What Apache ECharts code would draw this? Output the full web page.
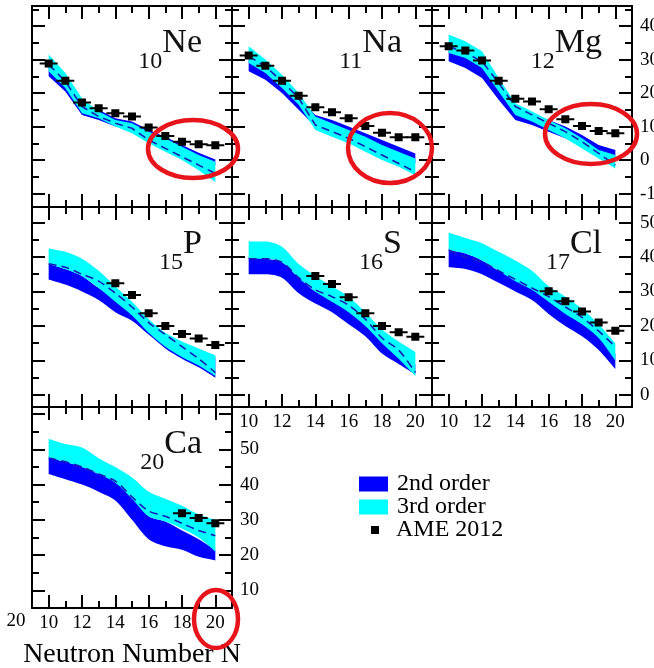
<!DOCTYPE html>
<html>
<head>
<meta charset="utf-8">
<script src="https://cdn.jsdelivr.net/npm/echarts@6/dist/echarts.min.js"></script>
<style>
  html, body { margin: 0; padding: 0; background: #fff; }
  #chart { width: 654px; height: 668px; }
</style>
</head>
<body>
<div id="chart"></div>
<script>
// Neutron numbers shared by every isotope chain
const neutrons = [10, 11, 12, 13, 14, 15, 16, 17, 18, 19, 20];
const xMajorTicks = [10, 12, 14, 16, 18, 20];
const xMinorTicks = [11, 13, 15, 17, 19];
const xTickLabels = [10, 12, 14, 16, 18, 20];

// y ticks for each row of panels
const row1MajorTicks = [-10, 0, 10, 20, 30, 40];
const row1MinorTicks = [-5, 5, 15, 25, 35, 45];
const row1TickLabels = [-10, 0, 10, 20, 30, 40];
const row2MajorTicks = [0, 10, 20, 30, 40, 50];
const row2MinorTicks = [5, 15, 25, 35, 45];
const row2TickLabels = [0, 10, 20, 30, 40, 50];
const row3MajorTicks = [10, 20, 30, 40, 50, 60];
const row3MinorTicks = [15, 25, 35, 45, 55];
const row3TickLabels = [10, 20, 30, 40, 50];

// 10Ne
const neLo2 = [25.0, 20.5, 13.5, 12.0, 10.0, 9.0, 6.5, 4.5, 2.0, 0.0, -1.5];
const neHi2 = [29.5, 24.5, 17.5, 15.0, 12.5, 11.5, 9.0, 7.0, 4.5, 2.2, 0.2];
const neLo3 = [26.5, 21.5, 14.0, 12.5, 10.0, 8.0, 5.0, 2.5, 0.0, -3.0, -6.5];
const neHi3 = [31.5, 26.0, 18.5, 14.5, 12.0, 11.0, 8.5, 6.5, 4.0, 1.5, -0.5];
const neMid = [28.5, 23.5, 16.0, 13.0, 11.0, 9.5, 6.0, 3.5, 1.0, -1.5, -4.0];
const neAmeN = [10, 11, 12, 13, 14, 15, 16, 17, 18, 19, 20];
const neAme = [28.8, 23.7, 17.2, 15.5, 14.0, 13.0, 9.7, 7.2, 5.5, 4.7, 4.4];

// 11Na
const naLo2 = [26.5, 24.0, 20.0, 15.0, 10.0, 8.5, 6.5, 4.5, 2.5, 0.5, -1.0];
const naHi2 = [30.5, 27.5, 23.5, 18.5, 13.5, 12.0, 10.0, 8.0, 6.0, 4.0, 2.0];
const naLo3 = [29.0, 26.0, 21.5, 16.5, 9.0, 7.0, 5.0, 2.5, 0.0, -2.0, -4.5];
const naHi3 = [34.0, 30.0, 25.5, 20.0, 13.0, 11.0, 9.0, 7.0, 4.5, 2.5, 0.5];
const naMid = [31.0, 28.0, 23.5, 18.5, 10.5, 8.5, 6.5, 4.0, 1.5, -1.0, -3.5];
const naAmeN = [10, 11, 12, 13, 14, 15, 16, 17, 18, 19, 20];
const naAme = [31.2, 28.2, 23.7, 19.2, 15.8, 14.3, 12.5, 10.2, 8.2, 6.8, 6.8];

// 12Mg
const mgLo2 = [29.5, 27.5, 24.5, 18.0, 12.0, 10.5, 8.5, 6.5, 4.0, 1.5, 0.0];
const mgHi2 = [33.5, 31.5, 28.5, 22.0, 15.5, 14.0, 12.0, 10.0, 7.5, 4.5, 3.0];
const mgLo3 = [32.0, 30.5, 27.5, 20.5, 13.5, 11.5, 9.0, 6.5, 3.5, 0.5, -2.5];
const mgHi3 = [37.5, 35.5, 32.5, 24.5, 17.0, 14.5, 12.0, 9.5, 6.5, 3.0, 1.5];
const mgMid = [34.0, 32.0, 29.5, 23.0, 16.0, 13.5, 11.0, 8.5, 5.5, 2.0, -1.5];
const mgAmeN = [10, 11, 12, 13, 14, 15, 16, 17, 18, 19, 20];
const mgAme = [34.0, 32.7, 29.7, 23.7, 18.3, 17.5, 15.2, 12.2, 10.2, 8.7, 8.0];

// 15P
const pLo2 = [33.5, 32.0, 30.0, 27.5, 24.0, 21.5, 17.5, 13.5, 10.5, 8.0, 5.0];
const pHi2 = [38.0, 36.5, 34.5, 31.0, 28.0, 25.5, 21.0, 17.0, 14.5, 12.5, 11.0];
const pLo3 = [38.0, 36.5, 34.5, 31.0, 27.0, 23.0, 18.0, 14.0, 11.0, 8.5, 5.5];
const pHi3 = [42.5, 41.5, 39.5, 36.0, 31.5, 27.0, 22.0, 18.0, 15.5, 13.5, 11.5];
const pMid = [38.0, 37.0, 35.0, 33.0, 29.5, 25.5, 21.0, 17.5, 14.0, 10.5, 6.5];
const pAmeN = [14, 15, 16, 17, 18, 19, 20];
const pAme = [32.4, 29.0, 23.7, 20.0, 17.7, 16.4, 14.5];

// 16S
const sLo2 = [35.0, 35.0, 34.0, 29.5, 26.5, 24.0, 20.5, 17.0, 12.0, 9.0, 6.0];
const sHi2 = [40.0, 39.5, 38.5, 34.0, 30.0, 27.5, 25.0, 21.0, 16.0, 12.5, 9.0];
const sLo3 = [39.5, 39.5, 38.5, 34.0, 30.0, 27.0, 24.0, 20.0, 15.0, 10.5, 5.5];
const sHi3 = [44.5, 44.5, 43.0, 38.0, 34.5, 31.5, 28.5, 24.0, 19.0, 15.5, 12.5];
const sMid = [39.5, 39.5, 38.5, 34.0, 30.5, 28.5, 26.0, 22.0, 16.5, 13.0, 6.5];
const sAmeN = [14, 15, 16, 17, 18, 19, 20];
const sAme = [34.5, 32.2, 28.3, 23.7, 20.0, 18.2, 16.9];

// 17Cl
const clLo2 = [37.0, 36.5, 35.0, 32.5, 30.0, 27.5, 23.5, 20.0, 17.0, 13.0, 7.5];
const clHi2 = [42.0, 41.0, 39.0, 36.0, 33.5, 31.0, 27.5, 24.0, 21.0, 17.0, 12.0];
const clLo3 = [42.0, 41.0, 39.0, 36.0, 33.0, 30.5, 27.0, 23.5, 20.5, 16.5, 10.0];
const clHi3 = [47.0, 45.5, 44.0, 41.5, 39.0, 36.0, 31.5, 28.5, 25.0, 20.5, 15.0];
const clMid = [42.0, 40.0, 38.5, 36.0, 33.5, 31.0, 28.5, 25.5, 22.5, 18.5, 14.0];
const clAmeN = [16, 17, 18, 19, 20];
const clAme = [30.1, 27.2, 24.2, 21.0, 18.6];

// 20Ca
const caLo2 = [43.0, 41.5, 40.0, 38.0, 35.5, 30.0, 24.5, 22.5, 21.5, 19.5, 18.5];
const caHi2 = [47.5, 46.5, 45.0, 43.0, 41.0, 36.5, 31.0, 29.5, 27.0, 24.5, 21.5];
const caLo3 = [47.5, 46.5, 45.0, 43.0, 40.5, 36.0, 31.0, 29.5, 27.5, 25.0, 21.0];
const caHi3 = [53.0, 51.5, 50.5, 47.5, 45.0, 42.0, 38.0, 36.0, 34.0, 31.5, 30.0];
const caMid = [47.5, 46.5, 45.0, 43.0, 41.0, 36.5, 32.5, 31.0, 29.0, 27.0, 25.5];
const caAmeN = [18, 19, 20];
const caAme = [31.9, 30.5, 29.0];

// ---- layout ----
const SERIF = '"Liberation Serif", "DejaVu Serif", "Times New Roman", serif';
const colLeft = [32, 232, 432];
const rowTop = [6, 207, 407];
const rowBottom = [207, 407, 608];
const panelW = 200;
const rowScale = [
  { min: -14, max: 46, major: row1MajorTicks, minor: row1MinorTicks, labels: row1TickLabels },
  { min: -3.5, max: 54.5, major: row2MajorTicks, minor: row2MinorTicks, labels: row2TickLabels },
  { min: 5, max: 62, major: row3MajorTicks, minor: row3MinorTicks, labels: row3TickLabels }
];

const panels = [
  { sym: 'Ne', z: '10', row: 0, col: 0, lo2: neLo2, hi2: neHi2, lo3: neLo3, hi3: neHi3, mid: neMid, ameN: neAmeN, ame: neAme, smooth: false },
  { sym: 'Na', z: '11', row: 0, col: 1, lo2: naLo2, hi2: naHi2, lo3: naLo3, hi3: naHi3, mid: naMid, ameN: naAmeN, ame: naAme, smooth: false },
  { sym: 'Mg', z: '12', row: 0, col: 2, lo2: mgLo2, hi2: mgHi2, lo3: mgLo3, hi3: mgHi3, mid: mgMid, ameN: mgAmeN, ame: mgAme, smooth: false, yLabels: true },
  { sym: 'P',  z: '15', row: 1, col: 0, lo2: pLo2, hi2: pHi2, lo3: pLo3, hi3: pHi3, mid: pMid, ameN: pAmeN, ame: pAme, smooth: 0.3 },
  { sym: 'S',  z: '16', row: 1, col: 1, lo2: sLo2, hi2: sHi2, lo3: sLo3, hi3: sHi3, mid: sMid, ameN: sAmeN, ame: sAme, smooth: 0.3, xLabels: true },
  { sym: 'Cl', z: '17', row: 1, col: 2, lo2: clLo2, hi2: clHi2, lo3: clLo3, hi3: clHi3, mid: clMid, ameN: clAmeN, ame: clAme, smooth: 0.3, xLabels: true, yLabels: true },
  { sym: 'Ca', z: '20', row: 2, col: 0, lo2: caLo2, hi2: caHi2, lo3: caLo3, hi3: caHi3, mid: caMid, ameN: caAmeN, ame: caAme, smooth: 0.3, xLabels: true, yLabels: true, xName: 'Neutron Number N' }
];

const BLUE = '#0000ff';
const CYAN = '#00ffff';
const MID_COLOR = '#1a1ab8';
// black square with short horizontal error bar
const AME_SYMBOL = 'path://M0,3H5V0H13V3H18V5H13V8H5V5H0Z';

const measureCtx = document.createElement('canvas').getContext('2d');
function textWidth(str, size) {
  measureCtx.font = size + 'px ' + SERIF;
  return measureCtx.measureText(str).width;
}

const grids = [], xAxes = [], yAxes = [], series = [], graphics = [];
const tickStyle = { color: '#000', width: 2 };
const lineStyleAxis = { color: '#000', width: 2 };

panels.forEach((p, gi) => {
  const left = colLeft[p.col];
  const top = rowTop[p.row];
  const height = rowBottom[p.row] - top;
  // fixed panel boxes; tick labels may run past the canvas edge
  grids.push({ left: left, top: top, width: panelW, height: height, outerBoundsMode: 'none', containLabel: false });
  const ys = rowScale[p.row];

  const mkX = (pos, ticks, len, withLine, withLabel) => ({
    gridIndex: gi, type: 'value', min: 9, max: 21, position: pos,
    axisLine: { show: withLine, onZero: false, lineStyle: lineStyleAxis },
    axisTick: { show: true, inside: true, length: len, customValues: ticks, lineStyle: tickStyle },
    axisLabel: { show: !!withLabel, customValues: xTickLabels, margin: 6, color: '#000', fontFamily: SERIF, fontSize: 19 },
    splitLine: { show: false }
  });
  const xIdx = xAxes.length;
  const bottomMajor = mkX('bottom', xMajorTicks, 13, true, p.xLabels);
  if (p.xName) {
    bottomMajor.name = p.xName;
    bottomMajor.nameLocation = 'middle';
    bottomMajor.nameGap = 33;
    bottomMajor.nameTextStyle = { fontFamily: SERIF, fontSize: 28, color: '#000' };
  }
  xAxes.push(bottomMajor, mkX('bottom', xMinorTicks, 7, false, false),
             mkX('top', xMajorTicks, 13, true, false), mkX('top', xMinorTicks, 7, false, false));

  const mkY = (pos, ticks, len, withLine, withLabel) => ({
    gridIndex: gi, type: 'value', min: ys.min, max: ys.max, position: pos,
    axisLine: { show: withLine, onZero: false, lineStyle: lineStyleAxis },
    axisTick: { show: true, inside: true, length: len, customValues: ticks, lineStyle: tickStyle },
    axisLabel: { show: !!withLabel, customValues: ys.labels, margin: 8, color: '#000', fontFamily: SERIF, fontSize: 19 },
    splitLine: { show: false }
  });
  const yIdx = yAxes.length;
  yAxes.push(mkY('left', ys.major, 13, true, false), mkY('left', ys.minor, 7, false, false),
             mkY('right', ys.major, 13, true, p.yLabels), mkY('right', ys.minor, 7, false, false));

  // rows are [value, N] so the stacked dimension is the value, not N
  const common = { xAxisIndex: xIdx, yAxisIndex: yIdx, symbol: 'none', smooth: p.smooth, silent: true, encode: { x: 1, y: 0 } };
  const band = (lo, hi, color, name, key) => {
    series.push(Object.assign({}, common, {
      type: 'line', name: p.sym + ' ' + key + ' lower', stack: p.sym + key, stackStrategy: 'all',
      data: neutrons.map((n, i) => [lo[i], n]), lineStyle: { opacity: 0 }
    }));
    series.push(Object.assign({}, common, {
      type: 'line', name: name, stack: p.sym + key, stackStrategy: 'all',
      data: neutrons.map((n, i) => [hi[i] - lo[i], n]),
      lineStyle: { opacity: 0 }, itemStyle: { color: color },
      areaStyle: { color: color, opacity: 1 }
    }));
  };
  band(p.lo2, p.hi2, BLUE, '2nd order', '2nd');
  band(p.lo3, p.hi3, CYAN, '3rd order', '3rd');
  series.push(Object.assign({}, common, {
    type: 'line', name: p.sym + ' central',
    data: neutrons.map((n, i) => [p.mid[i], n]),
    lineStyle: { color: MID_COLOR, width: 1.6, type: [8, 5] }
  }));
  series.push({
    type: 'scatter', name: 'AME 2012', xAxisIndex: xIdx, yAxisIndex: yIdx, silent: true,
    data: p.ameN.map((n, i) => [n, p.ame[i]]),
    symbol: AME_SYMBOL, symbolSize: [18, 8], itemStyle: { color: '#000', opacity: 1 }, z: 5
  });

  // element label: subscript proton number followed by symbol
  const mainSize = 34, subSize = 24;
  const rightEdge = left + 170;
  const mainW = textWidth(p.sym, mainSize);
  graphics.push({
    type: 'text', x: rightEdge, y: top + 49 - 0.34 * mainSize, z: 50,
    style: { text: p.sym, fontFamily: SERIF, fontSize: mainSize, fill: '#111', align: 'right', verticalAlign: 'middle' }
  });
  graphics.push({
    type: 'text', x: rightEdge - mainW, y: top + 64 - 0.34 * subSize, z: 50,
    style: { text: p.z, fontFamily: SERIF, fontSize: subSize, fill: '#111', align: 'right', verticalAlign: 'middle' }
  });
});

// highlight rings
const RING = { fill: null, stroke: '#e8141c', lineWidth: 4.5 };
[
  { cx: 193, cy: 149, rx: 45, ry: 29 },
  { cx: 390, cy: 148, rx: 42, ry: 35 },
  { cx: 591, cy: 134, rx: 46, ry: 30 },
  { cx: 216, cy: 619, rx: 22, ry: 29 }
].forEach(s => graphics.push({ type: 'ellipse', shape: s, style: RING, z: 100 }));

graphics.push({
  type: 'text', x: 16, y: 621, z: 50,
  style: { text: '20', fontFamily: SERIF, fontSize: 19, fill: '#000', align: 'center', verticalAlign: 'middle' }
});

const legendText = { fontFamily: SERIF, fontSize: 24, color: '#000' };
function legendFor(name, color, top, left, w, h, padLeft) {
  return {
    orient: 'vertical', left: left, top: top, itemWidth: w, itemHeight: h, selectedMode: false,
    data: [{ name: name, icon: 'rect', itemStyle: { color: color, borderWidth: 0 } }],
    textStyle: Object.assign({ padding: [0, 0, 0, padLeft] }, legendText)
  };
}

const chart = echarts.init(document.getElementById('chart'), null, { renderer: 'canvas' });
chart.setOption({
  animation: false,
  backgroundColor: '#fff',
  grid: grids,
  xAxis: xAxes,
  yAxis: yAxes,
  series: series,
  graphic: { elements: graphics },
  legend: [
    legendFor('2nd order', BLUE, 467, 354, 29, 15, 4),
    legendFor('3rd order', CYAN, 490, 354, 29, 15, 4),
    legendFor('AME 2012', '#000', 513, 366, 8, 8, 12)
  ]
});
</script>
</body>
</html>
